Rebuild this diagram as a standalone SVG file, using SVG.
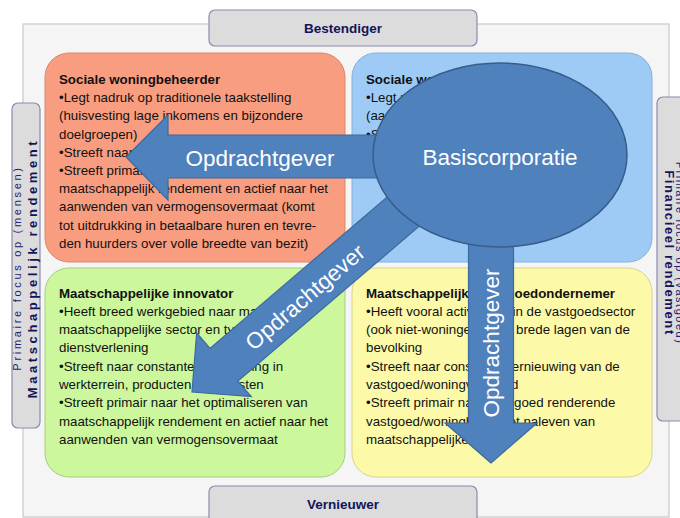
<svg xmlns="http://www.w3.org/2000/svg" width="680" height="518" viewBox="0 0 680 518">
<style>
.body{font-family:"Liberation Sans",Arial,sans-serif;font-size:13.3px;fill:#111111}
.ttl{font-weight:bold}
.lab{fill:#dcdcdc;stroke:#8a8ab0;stroke-width:1.2}
.labt{font-family:"Liberation Sans",Arial,sans-serif;font-weight:bold;font-size:13.5px;fill:#14145a;text-anchor:middle}
.sidel{font-family:"Liberation Sans",Arial,sans-serif;font-size:11px;fill:#1f1f6b;text-anchor:middle}
.sideb{font-family:"Liberation Sans",Arial,sans-serif;font-size:13px;font-weight:bold;fill:#14145a;text-anchor:middle}
.arr{fill:#4f81bd;stroke:#3d6a9e;stroke-width:1.2}
.arrt{font-family:"Liberation Sans",Arial,sans-serif;font-size:22.5px;fill:#ffffff;text-anchor:middle}
</style>
<rect x="23" y="24" width="646" height="493" fill="#f5f5f5" stroke="#c8c8c8" stroke-width="1.2"/>

<g id="q-sociale-woningbeheerder">
<rect x="45" y="53" width="300" height="209" rx="24" fill="#f99d80" stroke="#d8866c" stroke-width="1"/>
<text class="body"><tspan x="59" y="84" class="ttl">Sociale woningbeheerder</tspan><tspan x="59" dy="18.2">•Legt nadruk op traditionele taakstelling</tspan><tspan x="59" dy="18.2">(huisvesting lage inkomens en bijzondere</tspan><tspan x="59" dy="18.2">doelgroepen)</tspan><tspan x="59" dy="18.2">•Streeft naar</tspan><tspan x="59" dy="18.2">•Streeft primair</tspan><tspan x="59" dy="18.2">maatschappelijk rendement en actief naar het</tspan><tspan x="59" dy="18.2">aanwenden van vermogensovermaat (komt</tspan><tspan x="59" dy="18.2">tot uitdrukking in betaalbare huren en tevre-</tspan><tspan x="59" dy="18.2">den huurders over volle breedte van bezit)</tspan></text>
</g>

<g id="q-sociale-woningondernemer">
<rect x="352" y="53" width="300" height="209" rx="24" fill="#9dcbf6" stroke="#86b0d8" stroke-width="1"/>
<text class="body"><tspan x="366" y="84" class="ttl">Sociale woningondernemer</tspan><tspan x="366" dy="18.2">•Legt nadruk op ondernemerschap</tspan><tspan x="366" dy="18.2">(aandacht voor middeninkomens)</tspan><tspan x="366" dy="18.2">•Streeft naar financieel rendement</tspan></text>
</g>

<g id="q-maatschappelijke-innovator">
<rect x="45" y="268" width="300" height="209" rx="24" fill="#ccf79c" stroke="#a9cc80" stroke-width="1"/>
<text class="body"><tspan x="59" y="297.5" class="ttl">Maatschappelijke innovator</tspan><tspan x="59" dy="18.3">•Heeft breed werkgebied naar markt,</tspan><tspan x="59" dy="18.3">maatschappelijke sector en type</tspan><tspan x="59" dy="18.3">dienstverlening</tspan><tspan x="59" dy="18.3">•Streeft naar constante vernieuwing in</tspan><tspan x="59" dy="18.3">werkterrein, producten en diensten</tspan><tspan x="59" dy="18.3">•Streeft primair naar het optimaliseren van</tspan><tspan x="59" dy="18.3">maatschappelijk rendement en actief naar het</tspan><tspan x="59" dy="18.3">aanwenden van vermogensovermaat</tspan></text>
</g>

<g id="q-maatschappelijke-vastgoedondernemer">
<rect x="352" y="268" width="300" height="209" rx="24" fill="#fcf9a8" stroke="#d8d48c" stroke-width="1"/>
<text class="body"><tspan x="366" y="297.5" class="ttl">Maatschappelijke vastgoedondernemer</tspan><tspan x="366" dy="18.3">•Heeft vooral activiteiten in de vastgoedsector</tspan><tspan x="366" dy="18.3">(ook niet-woningen) voor brede lagen van de</tspan><tspan x="366" dy="18.3">bevolking</tspan><tspan x="366" dy="18.3">•Streeft naar constante vernieuwing van de</tspan><tspan x="366" dy="18.3">vastgoed/woningvoorraad</tspan><tspan x="366" dy="18.3">•Streeft primair naar een goed renderende</tspan><tspan x="366" dy="18.3">vastgoed/woningbezit met naleven van</tspan><tspan x="366" dy="18.3">maatschappelijke</tspan></text>
</g>

<g id="label-bestendiger">
<rect class="lab" x="209" y="10" width="268" height="36" rx="6"/>
<text class="labt" x="343" y="33">Bestendiger</text>
</g>
<g id="label-vernieuwer">
<rect class="lab" x="209" y="486" width="268" height="50" rx="6"/>
<text class="labt" x="343" y="509">Vernieuwer</text>
</g>
<g id="label-maatschappelijk">
<rect class="lab" x="12" y="103" width="28" height="325" rx="6"/>
<g transform="translate(0,268) rotate(-90)">
<text class="sidel" x="0" y="21" letter-spacing="2.7">Primaire focus op (mensen)</text>
<text class="sideb" x="0" y="37" letter-spacing="3.6">Maatschappelijk rendement</text>
</g>
</g>
<g id="label-financieel">
<rect class="lab" x="657" y="97" width="40" height="324" rx="6"/>
<g transform="translate(680,253) rotate(90)">
<text class="sidel" x="0" y="4" letter-spacing="1.5">Primaire focus op (vastgoed)</text>
<text class="sideb" x="0" y="15" letter-spacing="1.6">Financieel rendement</text>
</g>
</g>

<g id="connectors">
<polygon class="arr" points="126,157 168,115 168,135 395,135 395,178 168,178 168,200"/>
<polygon class="arr" transform="translate(192,392) rotate(-40.5)" points="0,0 42,-42 42,-21.5 300,-21.5 300,21.5 42,21.5 42,42"/>
<polygon class="arr" points="491,463 445,423 468.5,423 468.5,230 513.5,230 513.5,423 537,423"/>
<text class="arrt" x="260" y="166">Opdrachtgever</text>
<text class="arrt" transform="translate(305,297) rotate(-40.5)" x="0" y="8">Opdrachtgever</text>
<text class="arrt" transform="translate(491,343) rotate(-90)" x="0" y="8">Opdrachtgever</text>
</g>

<g id="basiscorporatie">
<ellipse cx="500" cy="155" rx="127" ry="92" fill="#4f81bd" stroke="#385d8a" stroke-width="1.5"/>
<text class="arrt" x="500" y="165" font-size="22">Basiscorporatie</text>
</g>
</svg>
